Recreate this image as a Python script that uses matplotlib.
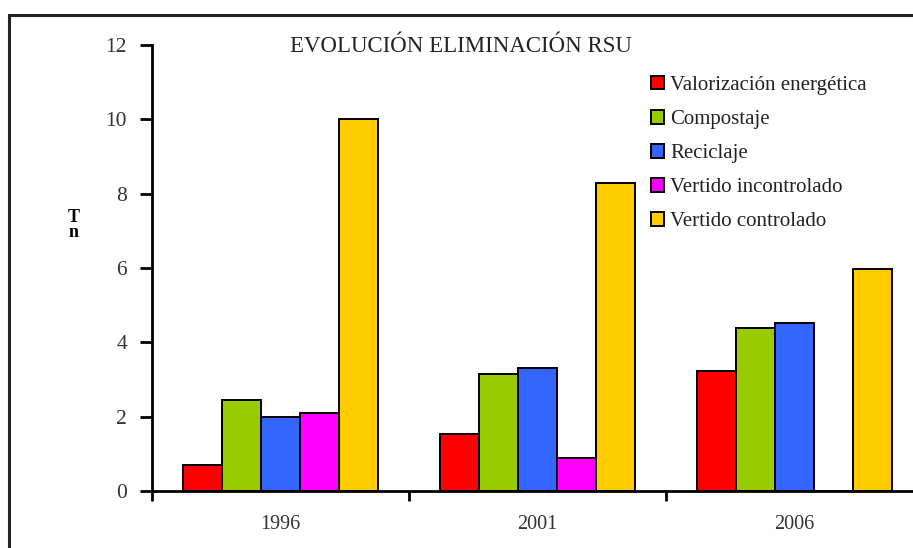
import numpy as np
import matplotlib.pyplot as plt
from matplotlib.patches import Rectangle

plt.rcParams['font.family'] = ['Liberation Serif', 'DejaVu Serif']

# datos (Tn)
anios = ['1996', '2001', '2006']
series = ['Valorización energética', 'Compostaje', 'Reciclaje',
          'Vertido incontrolado', 'Vertido controlado']
valorizacion = [0.7, 1.53, 3.23]
compostaje = [2.45, 3.15, 4.38]
reciclaje = [2.0, 3.31, 4.52]
vertido_incontrolado = [2.1, 0.88, 0.0]
vertido_controlado = [10.0, 8.3, 5.96]
colores = ['#FF0000', '#99CC00', '#3366FF', '#FF00FF', '#FFCC00']

valores = [valorizacion, compostaje, reciclaje, vertido_incontrolado, vertido_controlado]

fig = plt.figure(figsize=(9.13, 5.48), dpi=100)
ax = fig.add_axes([152 / 913, 1 - 491 / 548, (923 - 152) / 913, (491 - 45) / 548])

x = np.arange(len(anios))
w = 0.152
for i, (vals, col, nom) in enumerate(zip(valores, colores, series)):
    ax.bar(x + (i - 2) * w, vals, w, color=col, edgecolor='black',
           linewidth=1.4, label=nom)

ax.set_xlim(-0.5, 2.5)
ax.set_ylim(0, 12)
ax.set_yticks(range(0, 13, 2))
ax.set_xticks([-0.5, 0.5, 1.5, 2.5])
ax.set_xticklabels([])
ax.set_xticks(x, minor=True)
ax.set_xticklabels(anios, minor=True)
ax.tick_params(axis='x', which='minor', length=0, pad=17, labelsize=14.5, colors='#333333')
ax.tick_params(axis='x', which='major', length=7, width=2)
ax.tick_params(axis='y', length=9, width=2, pad=9, labelsize=15.5, labelcolor='#333333')
for s in ['top', 'right']:
    ax.spines[s].set_visible(False)
for s in ['left', 'bottom']:
    ax.spines[s].set_linewidth(2)

fig.text(461 / 913, 1 - 46 / 548, 'EVOLUCIÓN ELIMINACIÓN RSU', ha='center', va='center',
         fontsize=16.5, color='#222222')
fig.text(74 / 913, 1 - 225 / 548, 'T\nn', ha='center', va='center', fontsize=13,
         fontweight='bold', linespacing=0.85)

leg = fig.legend(loc='upper left', bbox_to_anchor=(651 / 913, 1 - 76 / 548),
                 frameon=False, fontsize=15, handlelength=0.62, handleheight=0.62,
                 handletextpad=0.3, labelspacing=0.72, borderpad=0, borderaxespad=0)
for t in leg.get_texts():
    t.set_color('#222222')

fig.patches.append(Rectangle((9 / 913, -0.2), 1.5, 1.2 - 15 / 548, fill=False,
                             edgecolor='#222222', linewidth=2.2,
                             transform=fig.transFigure, figure=fig))

fig.savefig('out.png', dpi=100)
